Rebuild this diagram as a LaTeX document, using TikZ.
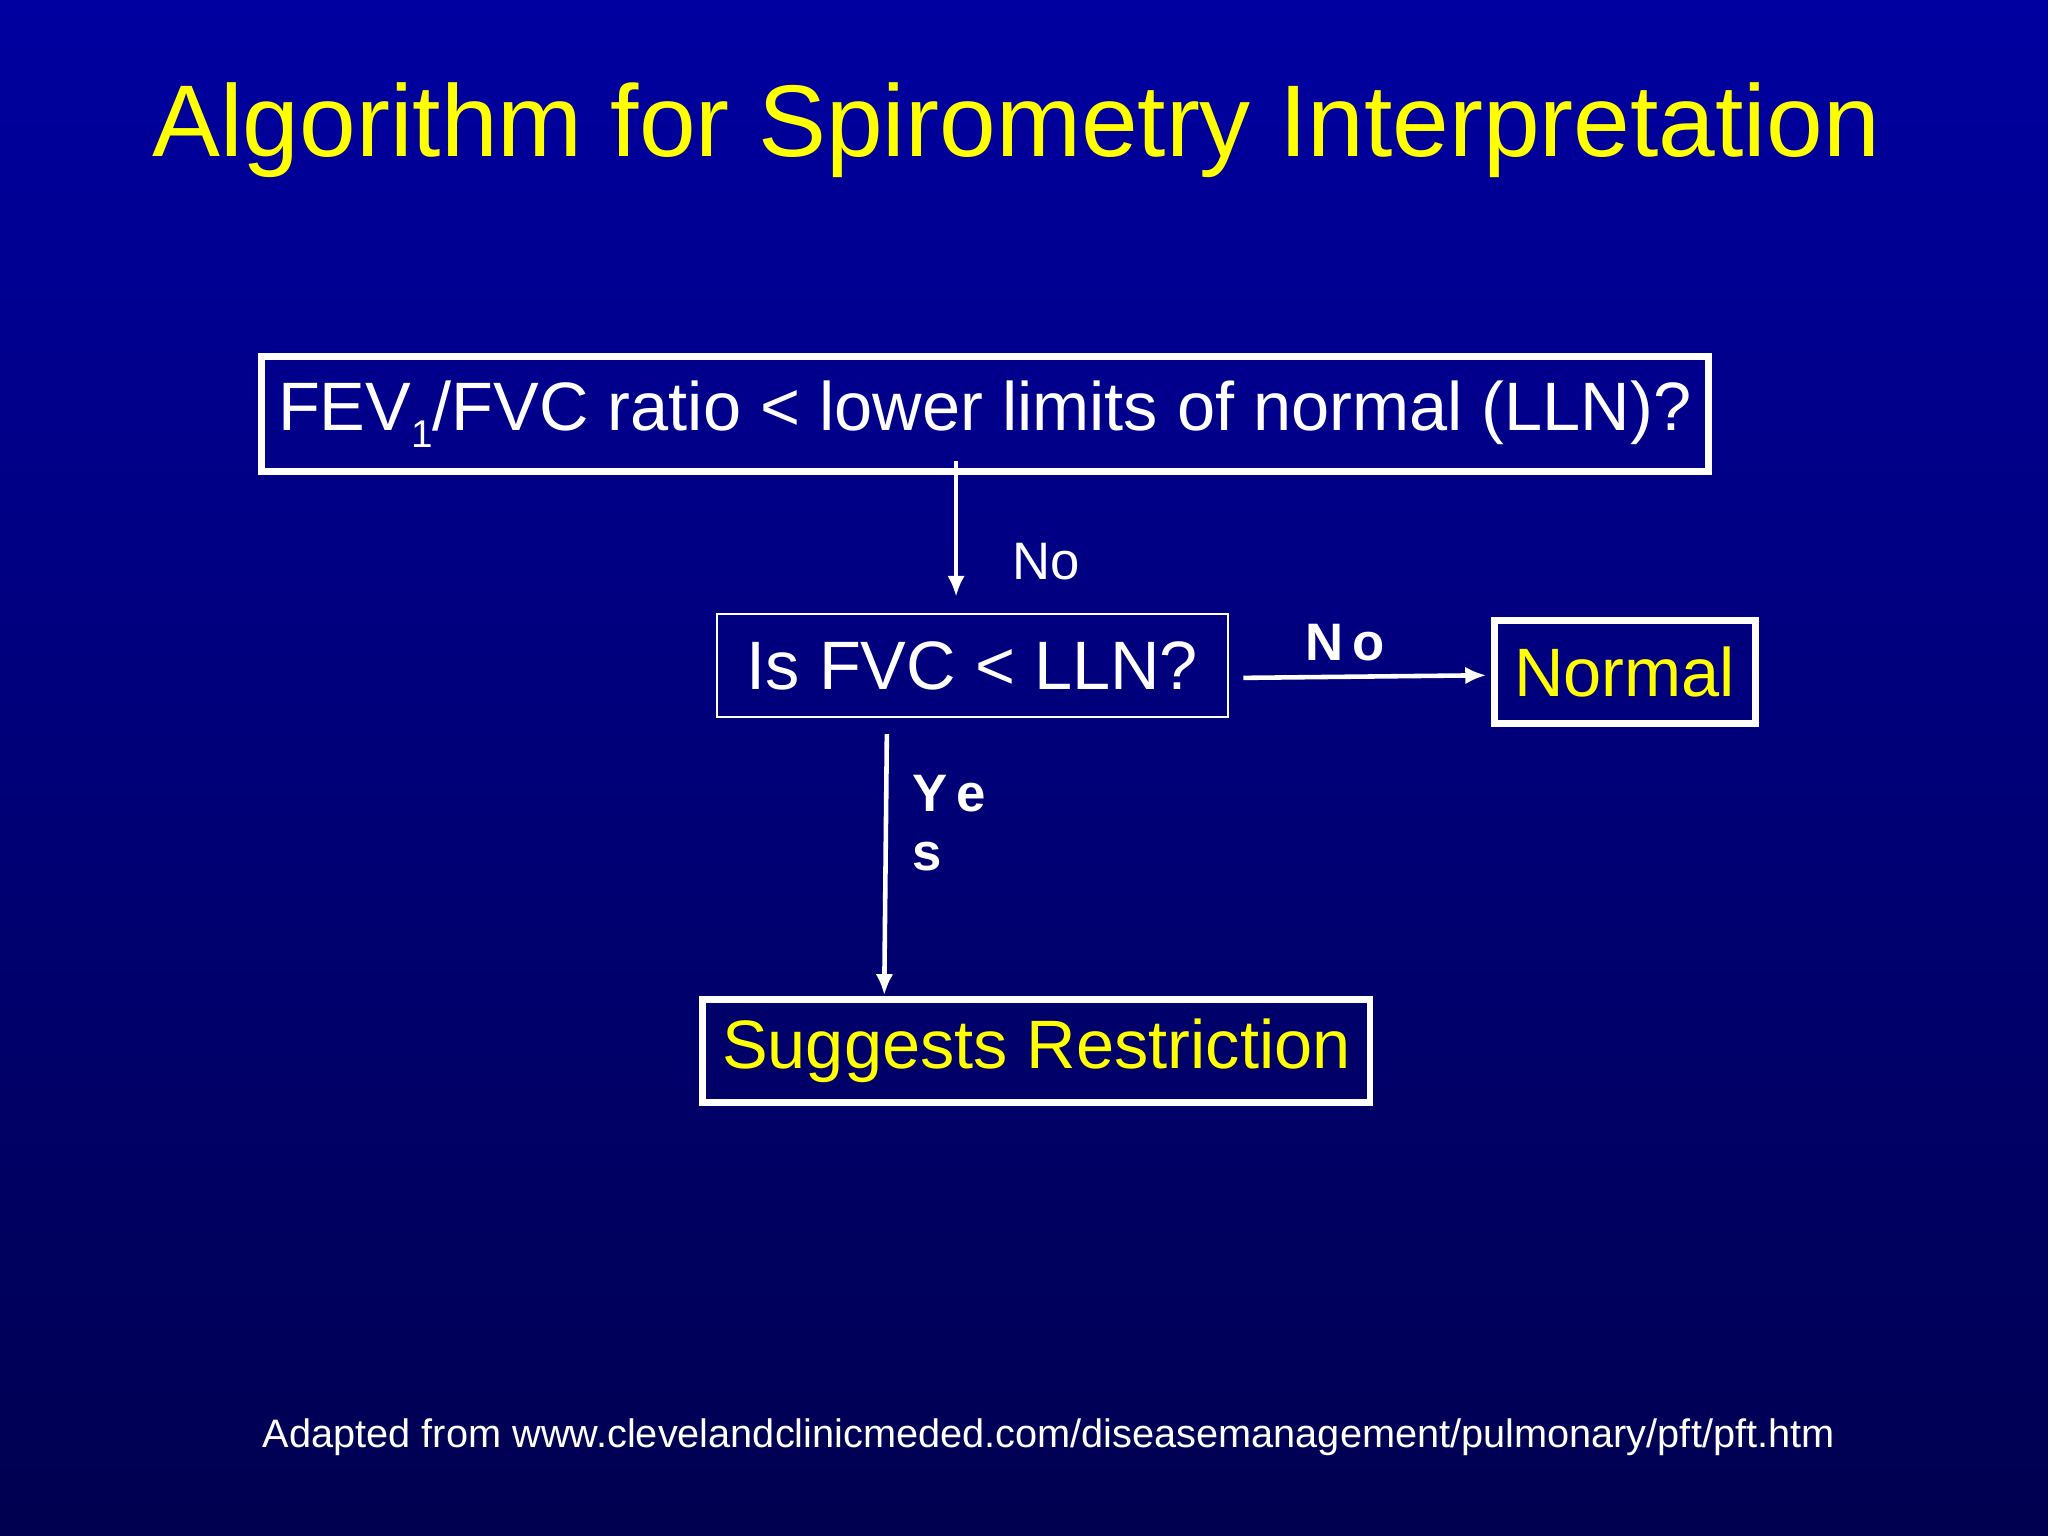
\documentclass[tikz,border=0pt]{standalone}
\usepackage{fontspec}
\setmainfont{Liberation Sans}
\usetikzlibrary{arrows.meta}
\definecolor{ylw}{RGB}{255,255,0}
\begin{document}
\begin{tikzpicture}[x={(0.013061cm,0)},y={(0,-0.013061cm)},
  thickbox/.style={draw=white,line width=1.9pt,inner sep=0pt},
  thinbox/.style={draw=white,line width=0.6pt,inner sep=0pt},
  arr/.style={draw=white,line width=1.3pt,-{Latex[length=6pt,width=5pt]}},
  lbl/.style={text=white,font=\fontsize{15}{18}\selectfont}]
\shade[top color={rgb,255:red,0;green,0;blue,160},bottom color={rgb,255:red,0;green,0;blue,80}] (0,0) rectangle (1568,1176);
\useasboundingbox (0,0) rectangle (1568,1176);
\node[text=ylw,font=\fontsize{29}{34}\selectfont] (title) at (778,100) {Algorithm for Spirometry Interpretation};
\node[thickbox,minimum width=14.47cm,minimum height=1.149cm,text=white,font=\fontsize{19.5}{23}\selectfont] (b1) at (754,317) {FEV\raisebox{-0.45ex}{\fontsize{11}{13}\selectfont 1}/FVC ratio < lower limits of normal (LLN)?};
\node[thinbox,minimum width=5.107cm,minimum height=1.032cm,text=white,font=\fontsize{19.5}{23}\selectfont] (b2) at (744.5,509.5) {Is FVC < LLN?};
\node[thickbox,minimum width=2.612cm,minimum height=1.032cm,text=ylw,font=\fontsize{19.5}{23}\selectfont] (b3) at (1244,514.5) {Normal};
\node[thickbox,minimum width=6.674cm,minimum height=1.032cm,text=ylw,font=\fontsize{19.5}{23}\selectfont] (b4) at (793.5,804.5) {Suggests Restriction};
\coordinate (a1s) at (732,353); \coordinate (a1e) at (732,457);
\coordinate (a2s) at (952,519); \coordinate (a2e) at (1138,517);
\coordinate (a3s) at (679,562); \coordinate (a3e) at (677,762);
\draw[arr] (a1s) -- (a1e);
\draw[arr] (a2s) -- (a2e);
\draw[arr] (a3s) -- (a3e);
\node[lbl] (l1) at (801,430) {No};
\node[lbl,font=\bfseries\fontsize{15}{18}\selectfont] (l2) at (1030,492) {N\,o};
\node[lbl,font=\bfseries\fontsize{15}{18}\selectfont,anchor=west] (l3) at (689,608) {Y\,e};
\node[lbl,font=\bfseries\fontsize{15}{18}\selectfont,anchor=west] (l4) at (689,656) {s};
\node[text=white,font=\fontsize{11.3}{14}\selectfont] (foot) at (803,1100) {Adapted from www.clevelandclinicmeded.com/diseasemanagement/pulmonary/pft/pft.htm};
\end{tikzpicture}
\end{document}
